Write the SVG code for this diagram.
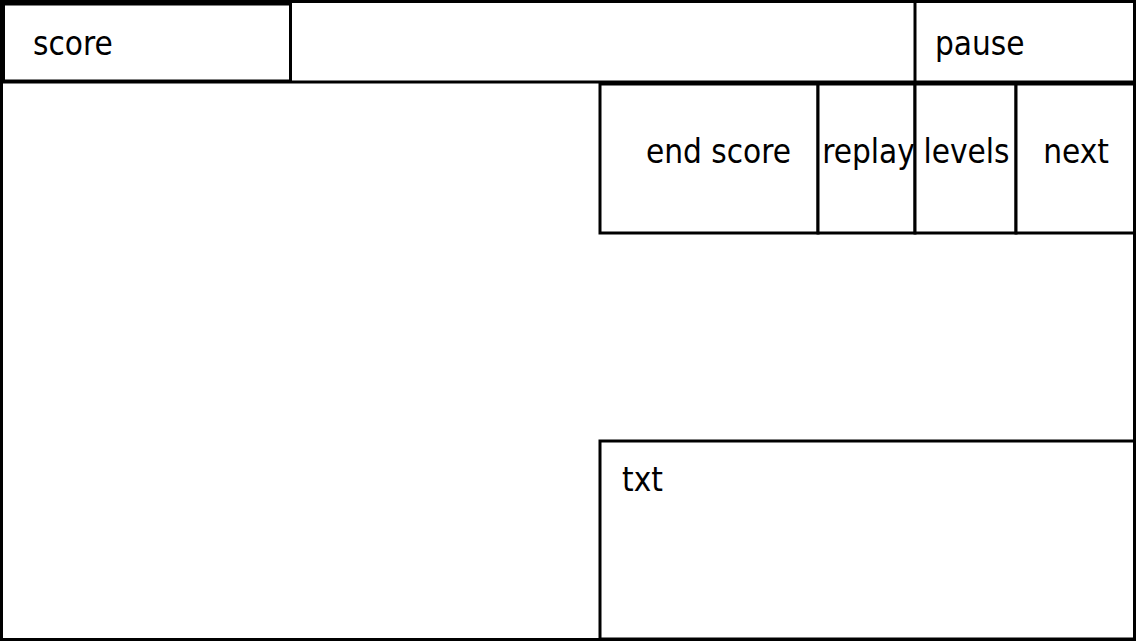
<svg xmlns="http://www.w3.org/2000/svg" width="1136" height="641" viewBox="0 0 1136 641">
<style>
.b{fill:#fff;stroke:#000;stroke-width:3}
.l{fill:none;stroke:#000;stroke-width:3}
text{font-family:"DejaVu Sans Condensed","DejaVu Sans",sans-serif;font-stretch:condensed;font-size:33px;fill:#000}
.m{text-anchor:middle}
</style>
<rect x="0" y="0" width="1136" height="641" fill="#fff"/>
<g id="frame"><rect class="b" x="1.5" y="1.5" width="1133" height="638"/></g>
<g id="header">
<line class="l" x1="0" y1="82" x2="1136" y2="82"/>
<line class="l" x1="915" y1="0" x2="915" y2="82"/>
</g>
<g id="score"><rect class="b" x="3.5" y="4" width="287" height="77"/><text x="33" y="55">score</text></g>
<g id="pause"><text x="935" y="55">pause</text></g>
<g id="endscore"><rect class="b" x="600" y="84" width="218" height="149"/><text class="m" x="718.5" y="163">end score</text></g>
<g id="replay"><rect class="b" x="818" y="84" width="97" height="149"/><text class="m" x="868.5" y="163">replay</text></g>
<g id="levels"><rect class="b" x="915" y="84" width="101" height="149"/><text class="m" x="966.5" y="163">levels</text></g>
<g id="next"><rect class="b" x="1016" y="84" width="118.5" height="149"/><text class="m" x="1076" y="163">next</text></g>
<g id="txt"><rect class="b" x="600" y="441" width="534.5" height="198"/><text x="622" y="491">txt</text></g>
<g id="connectors"></g>
</svg>
